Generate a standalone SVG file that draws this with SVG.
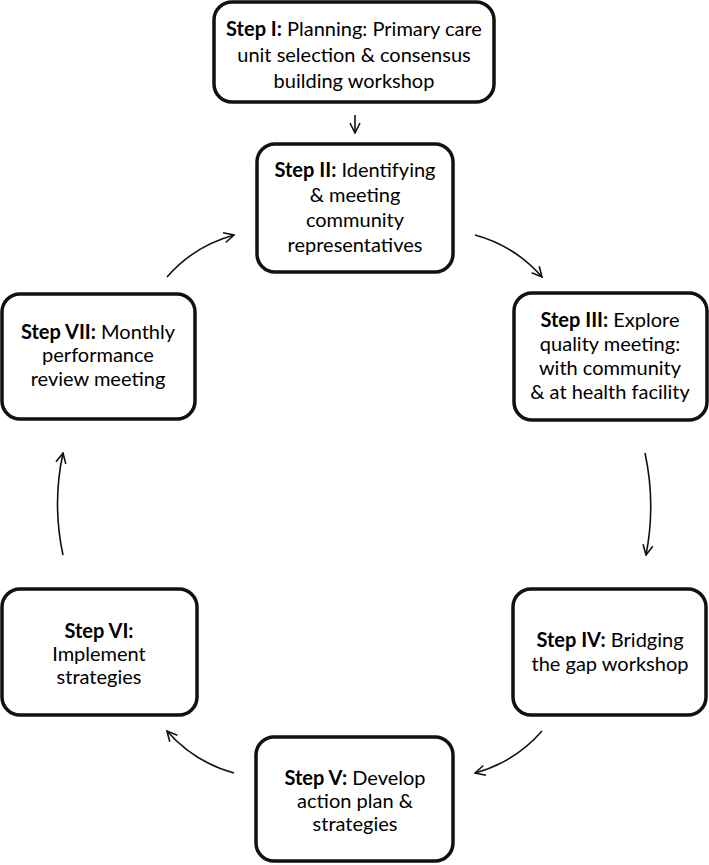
<svg xmlns="http://www.w3.org/2000/svg" width="709" height="865" viewBox="0 0 709 865">
<defs>
<style>
.box{fill:#fff;stroke:#111;stroke-width:3.5}
.t{font-family:Lato,"Open Sans","Liberation Sans",sans-serif;font-size:20px;fill:#000;text-anchor:middle}
.b{font-weight:bold}
.c{fill:none;stroke:#111;stroke-width:1.6}
</style>
<marker id="ah" viewBox="0 0 12 12" refX="11" refY="6" markerWidth="12" markerHeight="12" markerUnits="userSpaceOnUse" orient="auto">
<path d="M1,1 L11,6 L1,11" fill="none" stroke="#111" stroke-width="1.6"/>
</marker>
</defs>
<rect width="709" height="865" fill="#fff"/>
<g id="connectors">
<path class="c" d="M355,115 L355,133" marker-end="url(#ah)"/>
<path class="c" d="M475,235 Q515,246 542,277" marker-end="url(#ah)"/>
<path class="c" d="M645,453 Q656,504 646,555" marker-end="url(#ah)"/>
<path class="c" d="M542,731 Q515,762 475,773" marker-end="url(#ah)"/>
<path class="c" d="M234,773 Q194,762 167,731" marker-end="url(#ah)"/>
<path class="c" d="M63,555 Q52,504 63,453" marker-end="url(#ah)"/>
<path class="c" d="M167,277 Q194,246 234,235" marker-end="url(#ah)"/>
</g>
<g id="step1">
<rect class="box" x="214" y="2" width="280" height="100" rx="18"/>
<text class="t" x="354" y="36"><tspan class="b">Step I:</tspan> Planning: Primary care</text>
<text class="t" x="354" y="62">unit selection &amp; consensus</text>
<text class="t" x="354" y="88">building workshop</text>
</g>
<g id="step2">
<rect class="box" x="257" y="144" width="196" height="128" rx="18"/>
<text class="t" x="355" y="177"><tspan class="b">Step II:</tspan> Identifying</text>
<text class="t" x="355" y="202">&amp; meeting</text>
<text class="t" x="355" y="227">community</text>
<text class="t" x="355" y="252">representatives</text>
</g>
<g id="step3">
<rect class="box" x="514" y="293" width="193" height="127" rx="18"/>
<text class="t" x="610" y="327"><tspan class="b">Step III:</tspan> Explore</text>
<text class="t" x="610" y="351">quality meeting:</text>
<text class="t" x="610" y="375">with community</text>
<text class="t" x="610" y="399">&amp; at health facility</text>
</g>
<g id="step4">
<rect class="box" x="513" y="589" width="193" height="126" rx="18"/>
<text class="t" x="610" y="647"><tspan class="b">Step IV:</tspan> Bridging</text>
<text class="t" x="610" y="671">the gap workshop</text>
</g>
<g id="step5">
<rect class="box" x="256" y="737" width="197" height="124" rx="18"/>
<text class="t" x="355" y="785"><tspan class="b">Step V:</tspan> Develop</text>
<text class="t" x="355" y="808">action plan &amp;</text>
<text class="t" x="355" y="831">strategies</text>
</g>
<g id="step6">
<rect class="box" x="2" y="589" width="195" height="126" rx="18"/>
<text class="t b" x="99" y="638">Step VI:</text>
<text class="t" x="99" y="661">Implement</text>
<text class="t" x="99" y="684">strategies</text>
</g>
<g id="step7">
<rect class="box" x="2" y="294" width="193" height="125" rx="18"/>
<text class="t" x="98" y="339"><tspan class="b">Step VII:</tspan> Monthly</text>
<text class="t" x="98" y="362">performance</text>
<text class="t" x="98" y="386">review meeting</text>
</g>
</svg>
